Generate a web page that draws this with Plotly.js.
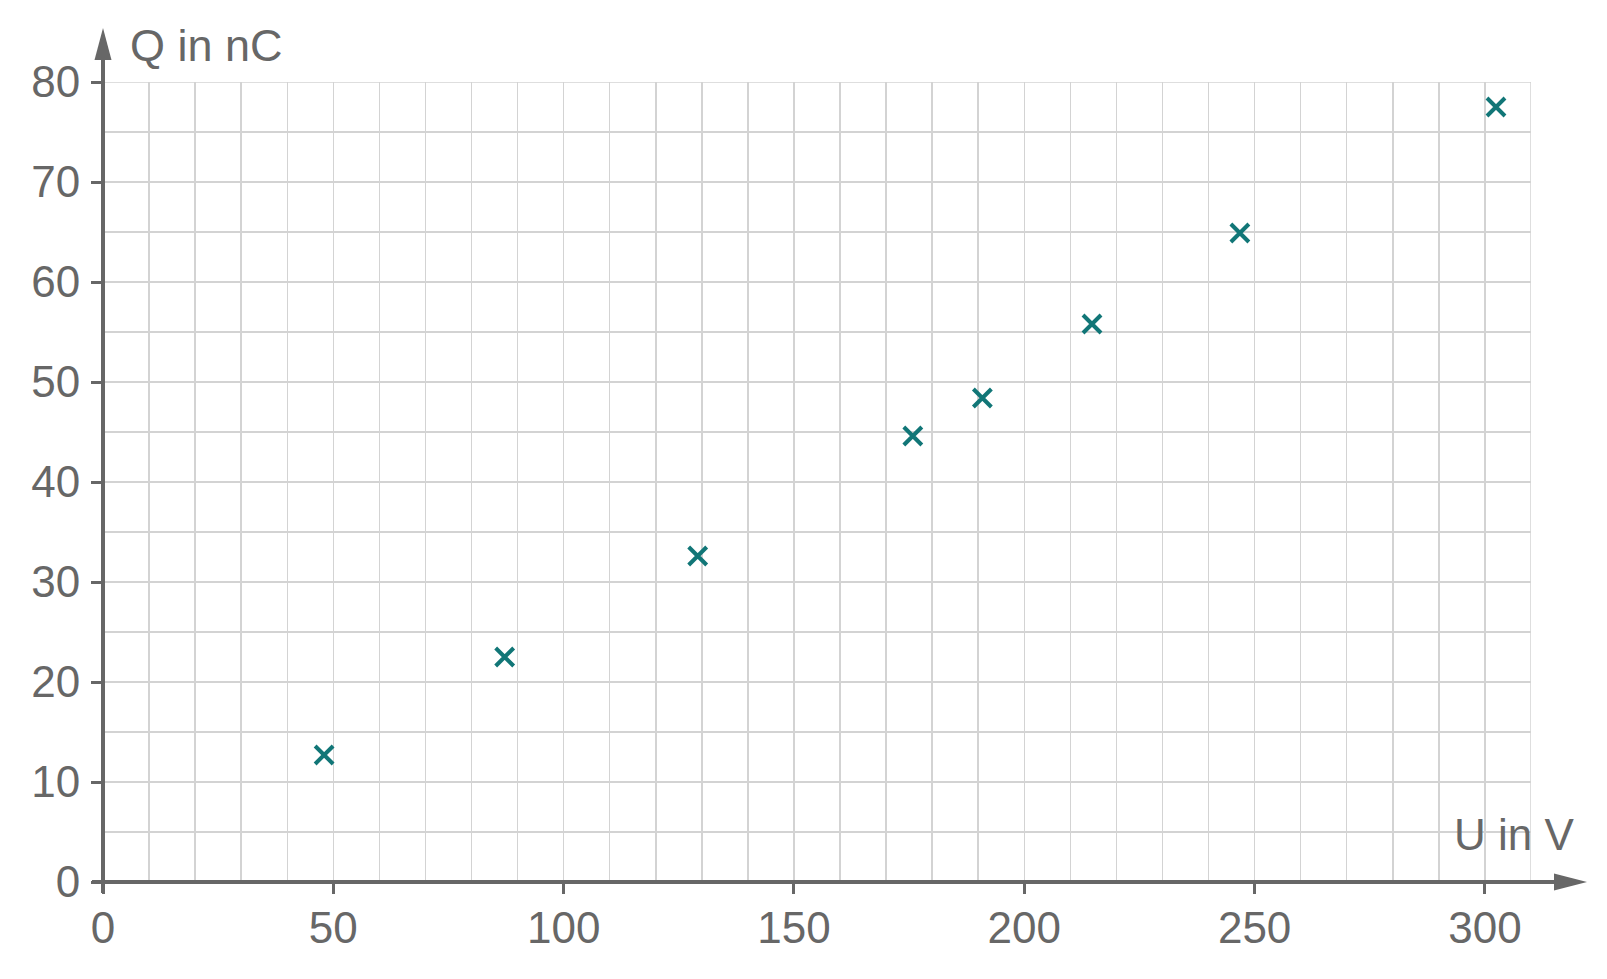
<!DOCTYPE html>
<html>
<head>
<meta charset="utf-8">
<script src="https://cdn.plot.ly/plotly-3.0.1.min.js"></script>
<style>html,body{margin:0;padding:0;background:#fff;}#chart{width:1607px;height:979px;}</style>
</head>
<body>
<div id="chart"></div>
<script>
// Data
const voltageU = [48, 87.2, 129.1, 175.8, 190.9, 214.7, 246.8, 302.4];
const chargeQ  = [12.7, 22.5, 32.6, 44.6, 48.4, 55.8, 64.9, 77.5];
const xLabel = "U in V";
const yLabel = "Q in nC";

const W = 1607, H = 979;
const M = {l: 103, r: 76, t: 82, b: 97};
const PW = W - M.l - M.r, PH = H - M.t - M.b;
const px = x => (x - M.l) / PW;
const py = y => (H - M.b - y) / PH;

const axisColor = '#676767';
const gridColor = '#d3d3d3';
const font = 'Liberation Sans, Arial, sans-serif';

function tri(p) {
  return 'M ' + p.map(q => px(q[0]) + ' ' + py(q[1])).join(' L ') + ' Z';
}

const shapes = [
  {type:'rect', xref:'x', yref:'y', x0:0, x1:310, y0:0, y1:80, line:{color:gridColor, width:1.5}, layer:'below'},
  {type:'line', xref:'paper', yref:'paper', x0:px(92), x1:px(1560), y0:0, y1:0, line:{color:axisColor, width:4}},
  {type:'line', xref:'paper', yref:'paper', x0:0, x1:0, y0:py(893), y1:py(50), line:{color:axisColor, width:4}},
  {type:'path', xref:'paper', yref:'paper', path: tri([[103,28],[94.5,60],[111.5,60]]), fillcolor:axisColor, line:{width:0}},
  {type:'path', xref:'paper', yref:'paper', path: tri([[1587,882],[1554,873.5],[1554,890.5]]), fillcolor:axisColor, line:{width:0}}
];

const annotations = [
  {xref:'paper', yref:'paper', x:px(128), y:py(45), xanchor:'left', yanchor:'middle', text:yLabel, showarrow:false, font:{family:font, size:45, color:axisColor}},
  {xref:'paper', yref:'paper', x:px(1514), y:py(834), xanchor:'center', yanchor:'middle', text:xLabel, showarrow:false, font:{family:font, size:44, color:axisColor}}
];

const trace = {
  x: voltageU, y: chargeQ, type:'scatter', mode:'markers',
  marker:{symbol:'x-thin', size:18, color:'#117677', line:{color:'#117677', width:4}},
  cliponaxis:false, hoverinfo:'x+y'
};

const layout = {
  width: W, height: H,
  margin: M,
  paper_bgcolor:'#ffffff', plot_bgcolor:'#ffffff',
  showlegend:false,
  font:{family:font, color:axisColor},
  xaxis:{
    range:[0,310], tickmode:'linear', tick0:0, dtick:50,
    showgrid:true, gridcolor:gridColor, gridwidth:1.5,
    minor:{dtick:10, tick0:0, showgrid:true, gridcolor:gridColor, gridwidth:1.5},
    zeroline:false, showline:false,
    ticks:'outside', ticklen:11, tickwidth:3, tickcolor:axisColor,
    tickfont:{family:font, size:44, color:axisColor},
    ticklabelstandoff:-4,
    fixedrange:true
  },
  yaxis:{
    range:[0,80], tickmode:'linear', tick0:0, dtick:10,
    showgrid:true, gridcolor:gridColor, gridwidth:1.5,
    minor:{dtick:5, tick0:0, showgrid:true, gridcolor:gridColor, gridwidth:1.5},
    zeroline:false, showline:false,
    ticks:'outside', ticklen:11, tickwidth:3, tickcolor:axisColor,
    tickfont:{family:font, size:44, color:axisColor},
    ticklabelstandoff:2,
    fixedrange:true
  },
  shapes: shapes,
  annotations: annotations
};

Plotly.newPlot('chart', [trace], layout, {displayModeBar:false, staticPlot:true});
</script>
</body>
</html>
